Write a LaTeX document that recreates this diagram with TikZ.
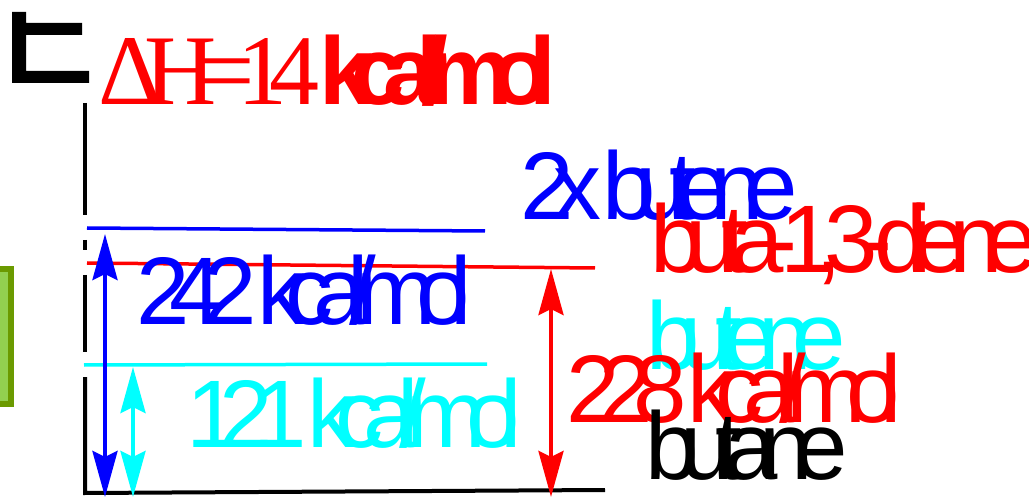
\documentclass[tikz,border=0pt]{standalone}
\usepackage{fontspec}
\usetikzlibrary{arrows.meta}
\newfontfamily\lblfont[LetterSpace=-20.5, WordSpace=0.05, BoldFeatures={LetterSpace=-22}]{Liberation Sans}
\newfontfamily\dhfont[LetterSpace=-18, WordSpace=0.05]{Liberation Serif}
\definecolor{boxgreen}{HTML}{92D050}
\definecolor{boxedge}{HTML}{6B9A00}
\definecolor{lvlcyan}{RGB}{0,255,255}
\definecolor{lvlblue}{RGB}{0,0,255}
\definecolor{lvlred}{RGB}{255,0,0}
\tikzstyle{lbl}   = [anchor=base west, inner sep=0pt, font=\lblfont\fontsize{96}{96}\selectfont]
\tikzstyle{level} = [line width=3.5pt]
\tikzstyle{axis}  = [line width=4pt, black]
\tikzstyle{span}  = [line width=4pt, {Stealth[length=46pt,width=25pt,inset=6pt]}-{Stealth[length=46pt,width=25pt,inset=6pt]}]

\begin{document}
\begin{tikzpicture}[x=1pt, y=-1pt]
        \useasboundingbox (0,0) rectangle (1029,497);

        % corner mark and green box
        \fill (12,12) -- (26,12) -- (26,23) -- (82,23) -- (82,35) -- (26,35) -- (26,71) -- (89,71) -- (89,83) -- (12,83) -- cycle;
        \draw[fill=boxgreen, draw=boxedge, line width=6pt] (-10,269) rectangle (11,404);

        % energy axis
        \draw[axis] (85,103) -- (85,215);
        \draw[axis] (85,240) -- (85,250);
        \draw[axis] (85,275) -- (85,352);
        \draw[axis] (85,377) -- (85,493) -- (605,490);

        % levels
        \draw[level, lvlblue] (87,228) -- (485,231);
        \draw[level, lvlred]  (87,263) -- (595,268);
        \draw[level, lvlcyan] (84,365) -- (487,364);

        % arrow ends
        \coordinate (dienTop)  at (105,234);
        \coordinate (dienFoot) at (105,497);
        \coordinate (eneTop)   at (133,367);
        \coordinate (eneFoot)  at (133,497);
        \coordinate (butaTop)  at (551,269);
        \coordinate (butaFoot) at (551,497);

        \draw[span, lvlblue] (dienTop) -- (dienFoot);
        \draw[span, lvlcyan] (eneTop) -- (eneFoot);
        \draw[span, lvlred]  (butaTop) -- (butaFoot);

        % labels
        \node[lbl, lvlred] (dH) at (98,105) {{\dhfont\fontsize{100}{100}\selectfont ΔH=14} {\bfseries kcal/mol}};
        \node[lbl, lvlblue] (twoEne) at (520,220) {2x butene};
        \node[lbl, lvlred] (diene) at (650,273) {\addfontfeature{LetterSpace=-18.5}buta-1,3-diene};
        \node[lbl, lvlcyan] (ene) at (646,369) {\addfontfeature{LetterSpace=-19.5}butene};
        \node[lbl, lvlred] (hDiene) at (566,422) {228 kcal/mol};
        \node[lbl] (ane) at (645,479) {\addfontfeature{LetterSpace=-19}butane};
        \node[lbl, lvlblue] (hTwoEne) at (136,325) {242 kcal/mol};
        \node[lbl, lvlcyan] (hEne) at (186,447) {121 kcal/mol};
    \end{tikzpicture}
\end{document}
